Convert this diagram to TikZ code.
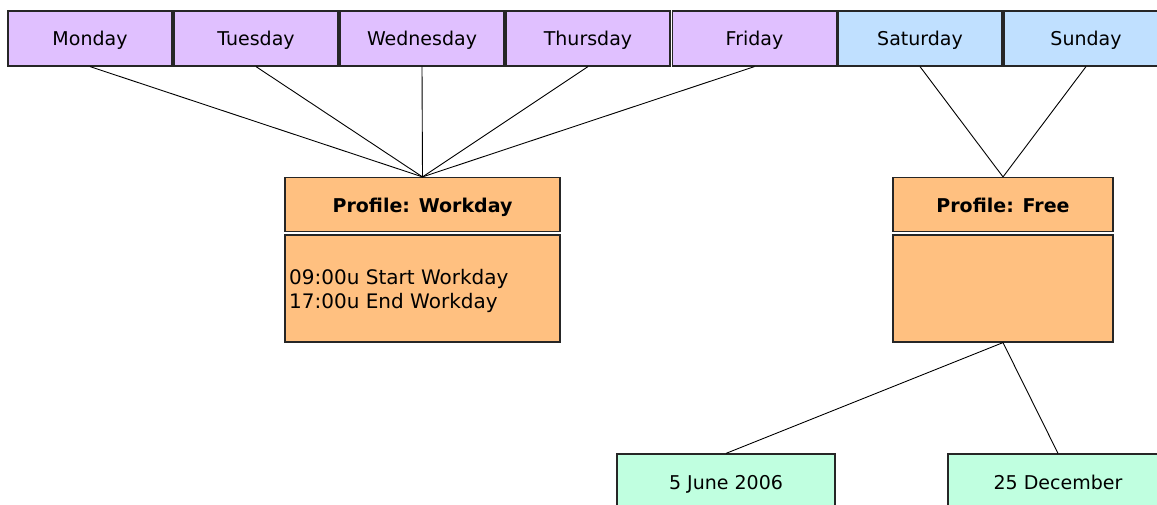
\documentclass[tikz,border=0pt]{standalone}
\usepackage{fontspec}
\setmainfont{DejaVu Sans}
\definecolor{workcol}{HTML}{E0C0FF}
\definecolor{weekcol}{HTML}{C0E0FF}
\definecolor{profcol}{HTML}{FFC080}
\definecolor{datecol}{HTML}{C0FFE0}

\begin{document}
\begin{tikzpicture}[x=1pt,y=-1pt,
    box/.style={draw=black!85,line width=1.2pt,inner sep=0pt,minimum height=55pt,minimum width=164pt,
      text height=16pt,text depth=2pt,font=\fontsize{19}{23}\selectfont},
    daybox/.style={box,fill=workcol},
    endbox/.style={box,fill=weekcol},
    headbox/.style={box,fill=profcol,minimum height=54pt,text height=18pt,font=\fontsize{19}{22}\selectfont\bfseries},
    bodybox/.style={box,fill=profcol,minimum height=107pt},
    datebox/.style={box,fill=datecol,minimum width=218pt,minimum height=56pt},
    link/.style={draw=black,line width=0.9pt}]
      \useasboundingbox (0,0) rectangle (1157,504);
      \node[daybox] (mon) at (90,38.5) {Monday};
      \node[daybox] (tue) at (256,38.5) {Tuesday};
      \node[daybox] (wed) at (422,38.5) {Wednesday};
      \node[daybox] (thu) at (588,38.5) {Thursday};
      \node[daybox] (fri) at (754.5,38.5) {Friday};
      \node[endbox] (sat) at (920,38.5) {Saturday};
      \node[endbox] (sun) at (1086,38.5) {Sunday};
      \node[headbox,minimum width=275pt] (workhead) at (422.5,204.5) {Profile: Workday};
      \node[bodybox,minimum width=275pt] (workbody) at (422.5,288.5) {};
      \node[anchor=west,align=left,inner sep=0pt,font=\fontsize{20}{23.5}\selectfont] (worktext) at (289,291) {09:00u Start Workday\\17:00u End Workday};
      \node[headbox,minimum width=220pt] (freehead) at (1003,204.5) {Profile: Free};
      \node[bodybox,minimum width=220pt] (freebody) at (1003,288.5) {};
      \node[datebox] (june) at (726,482) {5 June 2006};
      \node[datebox,minimum width=220pt] (dec) at (1058,482) {25 December};
      \draw[link] (mon.south) -- (workhead.north);
      \draw[link] (tue.south) -- (workhead.north);
      \draw[link] (wed.south) -- (workhead.north);
      \draw[link] (thu.south) -- (workhead.north);
      \draw[link] (fri.south) -- (workhead.north);
      \draw[link] (sat.south) -- (freehead.north);
      \draw[link] (sun.south) -- (freehead.north);
      \draw[link] (freebody.south) -- (june.north);
      \draw[link] (freebody.south) -- (dec.north);
    \end{tikzpicture}
\end{document}
